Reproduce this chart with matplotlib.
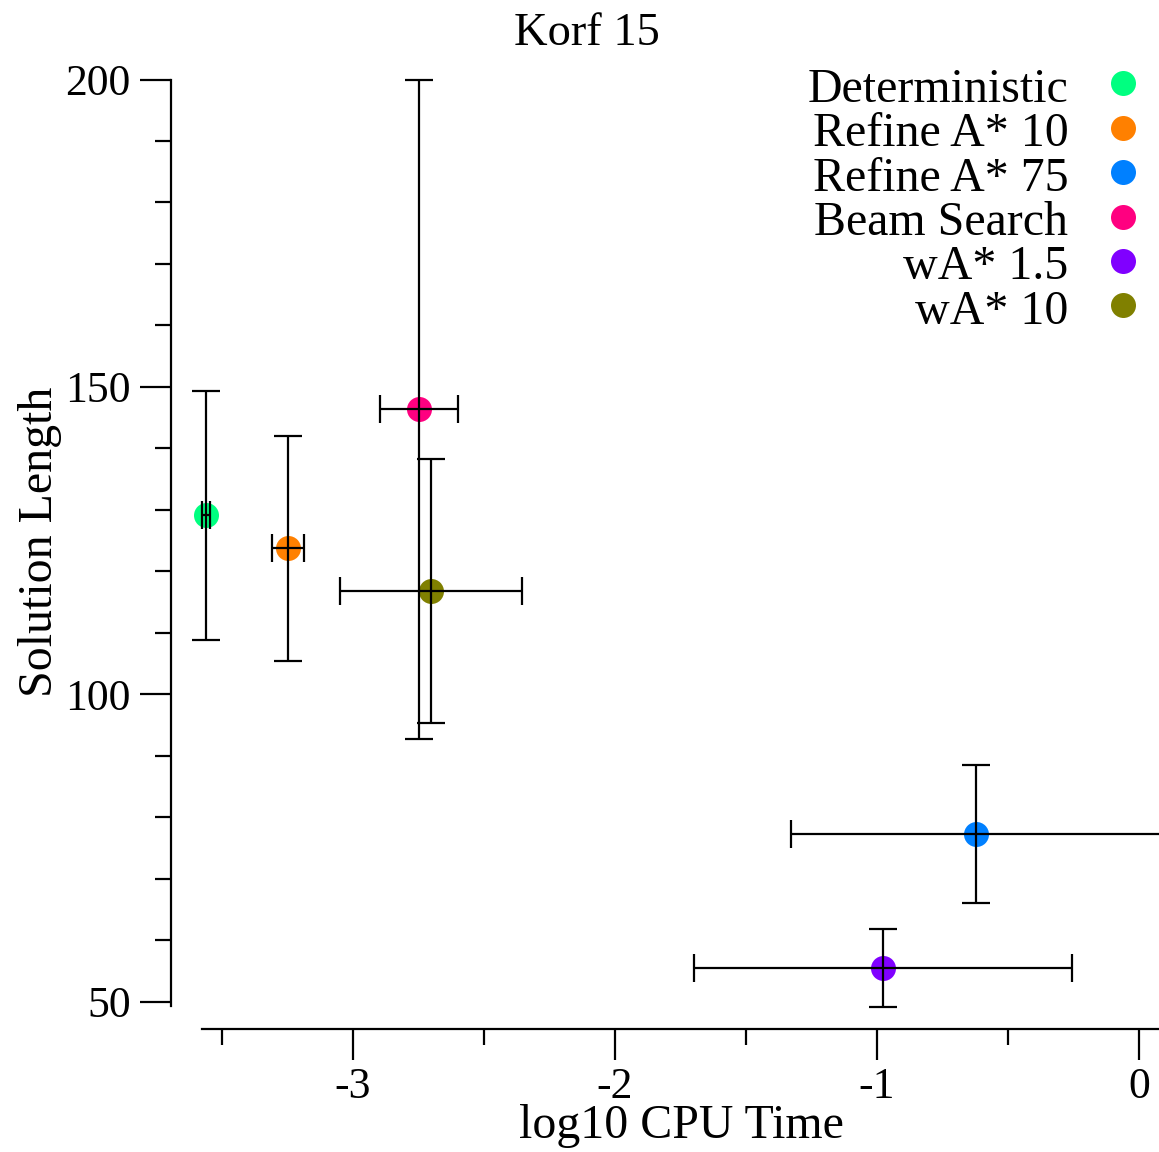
import matplotlib
matplotlib.use("Agg")
import matplotlib.pyplot as plt
from matplotlib.ticker import MultipleLocator

# Data
names = ["Deterministic", "Refine A* 10", "Refine A* 75", "Beam Search", "wA* 1.5", "wA* 10"]
colors = ["#00ff80", "#ff8000", "#0080ff", "#ff0080", "#8000ff", "#808000"]
log_time = [-3.562, -3.247, -0.622, -2.747, -0.978, -2.703]
time_err = [0.015, 0.061, 0.707, 0.148, 0.722, 0.347]
sol_len = [129.1, 123.75, 77.3, 146.4, 55.5, 116.8]
len_err = [20.3, 18.3, 11.2, 53.6, 6.3, 21.4]
#!#

W, H = 1159, 1152
def fx(p):
    return p / W
def fy(p):
    return 1 - p / H

plt.rcParams['font.family'] = ['Liberation Serif', 'DejaVu Serif']

fig = plt.figure(figsize=(W / 100, H / 100), dpi=100)
ax = fig.add_axes([fx(202), fy(1006), 1 - fx(202), fy(79.5) - fy(1006)])

ax.set_xlim(-3.576, 0.076)
ax.set_ylim(49.3, 200)

for i in range(len(names)):
    ax.plot(log_time[i], sol_len[i], 'o', color=colors[i], ms=18, mew=0,
            zorder=1, clip_on=False)
    ax.errorbar(log_time[i], sol_len[i], xerr=time_err[i], yerr=len_err[i],
                fmt='none', ecolor='black', elinewidth=1.6, capsize=10,
                capthick=1.6, zorder=2, clip_on=False)

# axes style
for s in ['top', 'right']:
    ax.spines[s].set_visible(False)
ax.spines['left'].set_position(('outward', 22.3))
ax.spines['bottom'].set_position(('outward', 16.6))
for s in ['left', 'bottom']:
    ax.spines[s].set_linewidth(1.6)

ax.xaxis.set_major_locator(MultipleLocator(1))
ax.xaxis.set_minor_locator(MultipleLocator(0.5))
ax.yaxis.set_major_locator(MultipleLocator(50))
ax.yaxis.set_minor_locator(MultipleLocator(10))
ax.tick_params(which='major', direction='out', length=22, width=1.6,
               labelsize=31.5, pad=5)
ax.tick_params(which='minor', direction='out', length=11.5, width=1.6)
ax.tick_params(axis='y', which='major', pad=7)
ax.xaxis.set_major_formatter(plt.FuncFormatter(lambda v, p: "%d" % round(v)))

# labels
fig.text(fx(587), fy(45), "Korf 15", ha='center', va='baseline', fontsize=33.5)
fig.text(fx(681), fy(1138), "log10 CPU Time", ha='center', va='baseline', fontsize=34.5)
fig.text(fx(40), fy(542), "Solution Length", ha='center', va='center',
         rotation=90, fontsize=34.5)

# legend
for i in range(len(names)):
    my = 83.3 + 44.4 * i
    ax.plot(fx(1122.7), fy(my), 'o', color=colors[i], ms=18, mew=0,
            transform=fig.transFigure, clip_on=False)
    fig.text(fx(1068.3), fy(my + 18.5), names[i], ha='right', va='baseline',
             fontsize=34.5)

fig.savefig("out.png", dpi=100)
